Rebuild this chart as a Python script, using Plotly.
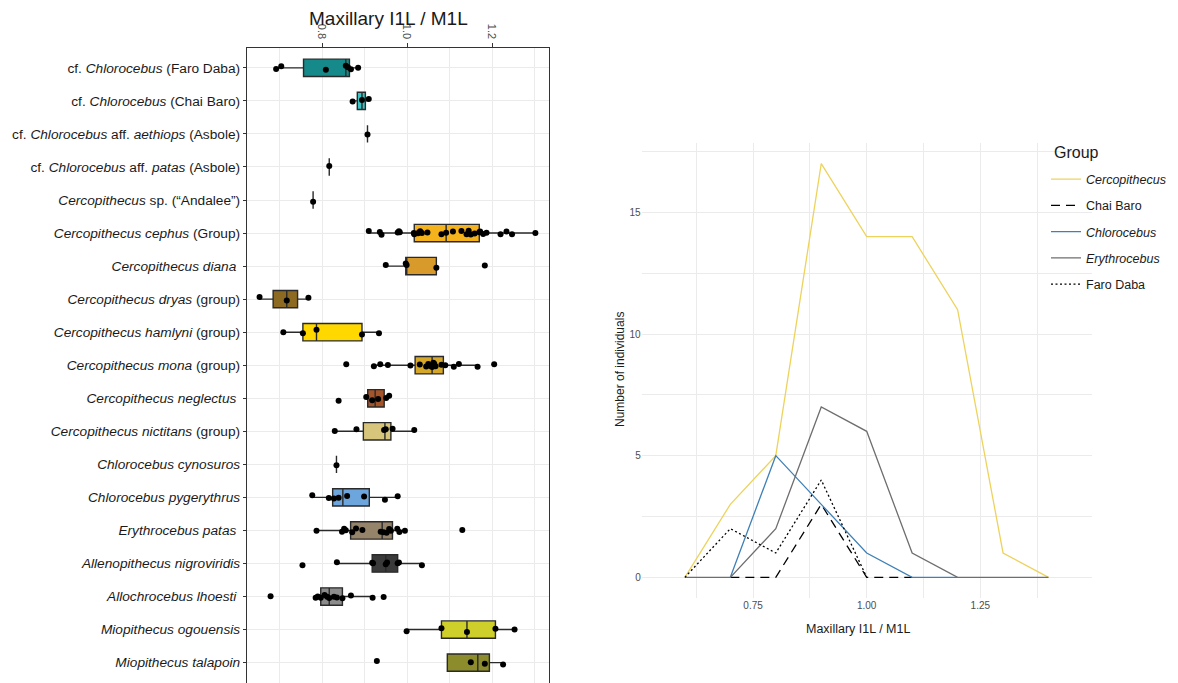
import numpy as np
import plotly.graph_objects as go

W, H = 1178, 683

# ---------------- left panel: ratio per taxon ----------------
taxa = [
    "cf. <i>Chlorocebus</i> (Faro Daba)",
    "cf. <i>Chlorocebus</i> (Chai Baro)",
    "cf. <i>Chlorocebus</i> aff. <i>aethiops</i> (Asbole)",
    "cf. <i>Chlorocebus</i> aff. <i>patas</i> (Asbole)",
    "<i>Cercopithecus</i> sp. (\u201cAndalee\u201d)",
    "<i>Cercopithecus cephus</i> (Group)",
    "<i>Cercopithecus diana</i> ",
    "<i>Cercopithecus dryas</i> (group)",
    "<i>Cercopithecus hamlyni</i> (group)",
    "<i>Cercopithecus mona</i> (group)",
    "<i>Cercopithecus neglectus</i> ",
    "<i>Cercopithecus nictitans</i> (group)",
    "<i>Chlorocebus cynosuros</i>",
    "<i>Chlorocebus pygerythrus</i>",
    "<i>Erythrocebus patas</i> ",
    "<i>Allenopithecus nigroviridis</i>",
    "<i>Allochrocebus lhoesti</i> ",
    "<i>Miopithecus ogouensis</i>",
    "<i>Miopithecus talapoin</i>",
]

faro_daba = [0.692, 0.704, 0.809, 0.856, 0.861, 0.868, 0.885]
chai_baro = [0.872, 0.894, 0.910]
aethiops_asbole = [0.907]
patas_asbole = [0.817]
andalee = [0.779]
c_cephus = [0.910, 0.936, 0.940, 0.978, 0.981, 0.983, 1.016, 1.017, 1.026, 1.029,
            1.031, 1.035, 1.048, 1.081, 1.092, 1.108, 1.128, 1.140, 1.145, 1.150,
            1.159, 1.170, 1.172, 1.179, 1.187, 1.220, 1.234, 1.247, 1.302]
c_diana = [0.950, 0.997, 0.999, 1.069, 1.183]
c_dryas = [0.653, 0.717, 0.768]
c_hamlyni = [0.709, 0.755, 0.787, 0.894, 0.934]
c_mona = [0.857, 0.922, 0.937, 0.955, 1.008, 1.030, 1.045, 1.050, 1.055, 1.059,
          1.062, 1.064, 1.067, 1.081, 1.090, 1.110, 1.122, 1.166, 1.205]
c_neglectus = [0.839, 0.904, 0.918, 0.932, 0.951, 0.958]
c_nictitans = [0.830, 0.881, 0.946, 0.950, 0.966, 1.017]
ch_cynosuros = [0.834]
ch_pygerythrus = [0.777, 0.816, 0.828, 0.839, 0.859, 0.899, 0.948, 0.978]
e_patas = [0.787, 0.847, 0.852, 0.856, 0.871, 0.880, 0.895, 0.938, 0.945, 0.952,
           0.958, 0.962, 0.977, 0.982, 0.995, 1.130]
a_nigroviridis = [0.754, 0.835, 0.918, 0.920, 0.950, 0.953, 0.978, 0.981, 1.035]
a_lhoesti = [0.679, 0.785, 0.790, 0.797, 0.806, 0.812, 0.817, 0.828, 0.835, 0.848,
             0.868, 0.919, 0.945]
m_ogouensis = [0.999, 1.081, 1.141, 1.208, 1.253]
m_talapoin = [0.929, 1.150, 1.183, 1.226]

ratios = [faro_daba, chai_baro, aethiops_asbole, patas_asbole, andalee, c_cephus,
          c_diana, c_dryas, c_hamlyni, c_mona, c_neglectus, c_nictitans,
          ch_cynosuros, ch_pygerythrus, e_patas, a_nigroviridis, a_lhoesti,
          m_ogouensis, m_talapoin]

box_fills = ["#168A8A", "#3DC3C3", "#3DC3C3", "#3DC3C3", "#E8B020", "#F4B21C",
             "#D99A2C", "#8C6A22", "#FFD800", "#D6A82A", "#A3542A", "#D8C57C",
             "#6CA6DC", "#6CA6DC", "#96846A", "#3A3A3A", "#8C8C8C", "#CFCF2C",
             "#8C8C2C"]

# ---------------- right panel: frequency polygons ----------------
bins_all = [0.6, 0.7, 0.8, 0.9, 1.0, 1.1, 1.2, 1.3, 1.4]
cercopithecus_n = [0, 3, 5, 17, 14, 14, 11, 1, 0]
chai_bins = [0.7, 0.8, 0.9, 1.0, 1.1]
chai_n = [0, 0, 3, 0, 0]
chloro_bins = [0.7, 0.8, 0.9, 1.0, 1.1, 1.2]
chloro_n = [0, 5, 3, 1, 0, 0]
erythro_n = [0, 0, 2, 7, 6, 1, 0, 0, 0]
faro_bins = [0.6, 0.7, 0.8, 0.9, 1.0]
faro_n = [0, 2, 1, 4, 0]

FONT = "Liberation Sans, Arial, sans-serif"
fig = go.Figure()

# boxes from Tukey statistics (type-7 quantiles, 1.5 IQR whiskers)
for i, (vals, fill) in enumerate(zip(ratios, box_fills)):
    v = np.array(vals)
    q1, med, q3 = np.percentile(v, [25, 50, 75])
    iqr = q3 - q1
    lo = v[v >= q1 - 1.5 * iqr].min()
    hi = v[v <= q3 + 1.5 * iqr].max()
    fig.add_trace(go.Box(
        y=[i], q1=[q1], median=[med], q3=[q3], lowerfence=[lo], upperfence=[hi],
        orientation="h", fillcolor=fill, line=dict(color="#2A2A2A", width=1.4),
        whiskerwidth=0, boxpoints=False, showlegend=False, hoverinfo="skip",
        xaxis="x", yaxis="y"))

# jittered individual points on top of the boxes
all_x = [x for vals in ratios for x in vals]
all_y = [i for i, vals in enumerate(ratios) for _ in vals]
fig.add_trace(go.Box(
    x=all_x, y=all_y, orientation="h", boxpoints="all", jitter=0.3, pointpos=0,
    fillcolor="rgba(0,0,0,0)", line=dict(width=0, color="rgba(0,0,0,0)"),
    marker=dict(color="black", size=6), showlegend=False, hoverinfo="skip",
    xaxis="x", yaxis="y"))

# frequency polygons
series = [
    ("<i>Cercopithecus</i>", bins_all, cercopithecus_n, "#EDD35C", "solid"),
    ("Chai Baro", chai_bins, chai_n, "black", "9px,6px"),
    ("<i>Chlorocebus</i>", chloro_bins, chloro_n, "#3F80B6", "solid"),
    ("<i>Erythrocebus</i>", bins_all, erythro_n, "#6E6E6E", "solid"),
    ("Faro Daba", faro_bins, faro_n, "black", "2px,2.5px"),
]
for name, xs, ys, col, dash in series:
    fig.add_trace(go.Scatter(
        x=xs, y=ys, mode="lines", name=name, legendgroup=name,
        line=dict(color=col, width=1.3, dash=dash),
        xaxis="x2", yaxis="y2", hoverinfo="skip"))

grid = "#EBEBEB"


def label(text, px, py, size, angle=0, anchor="center"):
    return dict(text=text, x=px / W, y=1 - py / H, xref="paper", yref="paper",
                xanchor=anchor, yanchor="middle", showarrow=False,
                textangle=angle, font=dict(size=size, color="#1A1A1A"))


fig.update_layout(
    width=W, height=H, margin=dict(l=0, r=0, t=0, b=0),
    paper_bgcolor="white", plot_bgcolor="white",
    font=dict(family=FONT, color="#1A1A1A"),
    boxmode="overlay", boxgap=0.25,
    xaxis=dict(
        domain=[247 / W, 549 / W], range=[0.6235, 1.334], side="top", anchor="y",
        tick0=0.6, dtick=0.2, tickformat=".1f", tickangle=90,
        tickfont=dict(size=11, color="#4D4D4D"), ticks="outside", ticklen=4,
        tickcolor="#333333", showline=True, linecolor="#333333", linewidth=1.2,
        showgrid=True, gridcolor=grid, gridwidth=1, zeroline=False,
        minor=dict(dtick=0.1, tick0=0.6, showgrid=True, gridcolor=grid, gridwidth=1),
        automargin=False),
    yaxis=dict(
        domain=[0, 1 - 48 / H], range=[18.617, -0.6], anchor="x",
        tickmode="array", tickvals=list(range(len(taxa))), ticktext=taxa,
        tickfont=dict(size=13.7, color="#1A1A1A"), ticks="outside", ticklen=3,
        tickcolor="#333333", showline=True, mirror=True, linecolor="#333333",
        linewidth=1.2, showgrid=True, gridcolor=grid, zeroline=False,
        automargin=False),
    xaxis2=dict(
        domain=[641.7 / W, 1091.7 / W], range=[0.505, 1.495], anchor="y2",
        tick0=0.5, dtick=0.25, tickformat=".2f",
        tickfont=dict(size=10, color="#4D4D4D"), ticks="", showline=False,
        showgrid=True, gridcolor=grid, gridwidth=1, zeroline=False,
        minor=dict(dtick=0.125, tick0=0.5, showgrid=True, gridcolor=grid, gridwidth=1),
        automargin=False),
    yaxis2=dict(
        domain=[1 - 598 / H, 1 - 143 / H], range=[-0.85, 17.85], anchor="x2",
        tick0=0, dtick=5, tickfont=dict(size=10, color="#4D4D4D"), ticks="",
        showgrid=True, gridcolor=grid, gridwidth=1, zeroline=False,
        minor=dict(dtick=2.5, tick0=0, showgrid=True, gridcolor=grid, gridwidth=1),
        automargin=False),
    legend=dict(
        x=1046 / W, y=1 - 164.5 / H, xanchor="left", yanchor="top",
        font=dict(size=12.5, color="#1A1A1A"), tracegroupgap=7,
        bgcolor="rgba(0,0,0,0)"),
    annotations=[
        label("Maxillary I1L / M1L", 388, 19, 19),
        label("Maxillary I1L / M1L", 858, 629, 12.5),
        label("Number of individuals", 620, 370, 12, angle=-90),
        label("Group", 1052, 152, 16, anchor="left"),
    ],
)

fig.write_html("out.html")
